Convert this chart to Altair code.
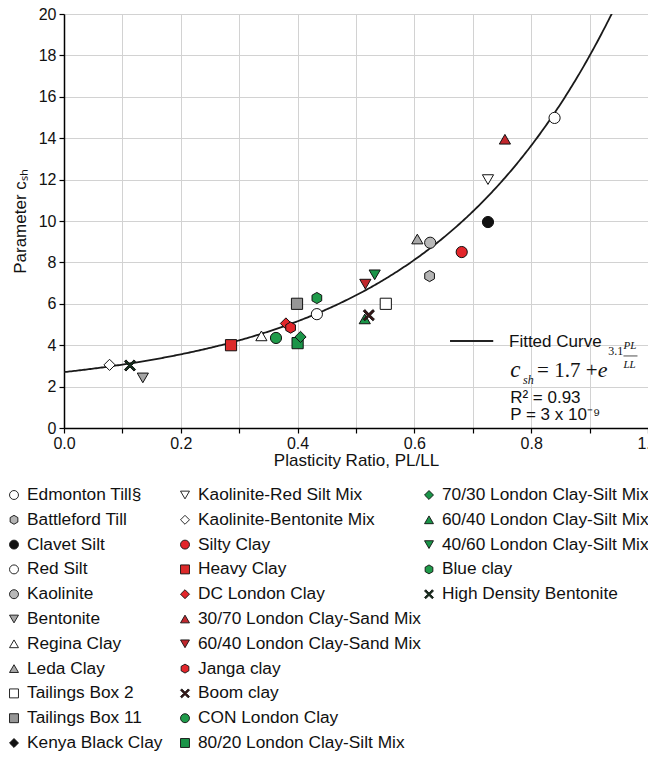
import altair as alt
import pandas as pd

# ---------------- data ----------------
series = [
    "Edmonton Till§", "Battleford Till", "Clavet Silt", "Red Silt", "Kaolinite",
    "Bentonite", "Regina Clay", "Leda Clay", "Tailings Box 2", "Tailings Box 11",
    "Kenya Black Clay",
    "Kaolinite-Red Silt Mix", "Kaolinite-Bentonite Mix", "Silty Clay", "Heavy Clay",
    "DC London Clay", "30/70 London Clay-Sand Mix", "60/40 London Clay-Sand Mix",
    "Janga clay", "Boom clay", "CON London Clay", "80/20 London Clay-Silt Mix",
    "70/30 London Clay-Silt Mix", "60/40 London Clay-Silt Mix",
    "40/60 London Clay-Silt Mix", "Blue clay", "High Density Bentonite",
]

HEX = "M0,-1L0.866,-0.5L0.866,0.5L0,1L-0.866,0.5L-0.866,-0.5Z"
XSYM = "M-1,-0.72L-0.72,-1L0,-0.28L0.72,-1L1,-0.72L0.28,0L1,0.72L0.72,1L0,0.28L-0.72,1L-1,0.72L-0.28,0Z"

shapes = [
    "circle", HEX, "circle", "circle", "circle",
    "triangle-down", "triangle-up", "triangle-up", "square", "square",
    "diamond",
    "triangle-down", "diamond", "circle", "square",
    "diamond", "triangle-up", "triangle-down",
    HEX, XSYM, "circle", "square",
    "diamond", "triangle-up",
    "triangle-down", HEX, XSYM,
]

fills = [
    "#ffffff", "#b4b4b4", "#111111", "#ffffff", "#b8b8b8",
    "#a6a6a6", "#ffffff", "#a8a8a8", "#ffffff", "#969696",
    "#111111",
    "#ffffff", "#ffffff", "#e3262b", "#dc2a2a",
    "#e3262b", "#c1272d", "#c1272d",
    "#e3262b", "#3a1616", "#1f9b4a", "#1a9448",
    "#1a9448", "#1a9448",
    "#1a9448", "#1f9b4a", "#15301d",
]

pt_series = [
    "Kaolinite-Bentonite Mix", "High Density Bentonite", "Bentonite",
    "Heavy Clay", "Regina Clay", "CON London Clay", "DC London Clay",
    "Janga clay", "Tailings Box 11", "80/20 London Clay-Silt Mix",
    "70/30 London Clay-Silt Mix", "Blue clay", "Red Silt",
    "60/40 London Clay-Sand Mix", "40/60 London Clay-Silt Mix",
    "60/40 London Clay-Silt Mix", "Boom clay", "Tailings Box 2",
    "Leda Clay", "Kaolinite", "Battleford Till", "Silty Clay",
    "Clavet Silt", "Kaolinite-Red Silt Mix", "30/70 London Clay-Sand Mix",
    "Edmonton Till§",
]
pt_x = [
    0.078, 0.113, 0.135,
    0.286, 0.338, 0.363, 0.380,
    0.388, 0.399, 0.400,
    0.405, 0.433, 0.433,
    0.516, 0.532,
    0.515, 0.522, 0.551,
    0.605, 0.627, 0.626, 0.681,
    0.726, 0.726, 0.755,
    0.840,
]
pt_y = [
    3.05, 3.02, 2.42,
    4.00, 4.45, 4.35, 5.05,
    4.85, 6.00, 4.10,
    4.40, 6.28, 5.50,
    6.95, 7.40,
    5.27, 5.45, 6.00,
    9.13, 8.95, 7.34, 8.50,
    9.95, 12.00, 13.95,
    14.98,
]

FIT_A = 1.7
FIT_B = 3.1

# ---------------- style ----------------
FONT = "'Liberation Sans', Arial, sans-serif"
SERIF = "'Liberation Serif', 'Times New Roman', serif"
W, H = 584, 414

xs = alt.Scale(domain=[0, 1], nice=False, zero=False)
ys = alt.Scale(domain=[0, 20], nice=False)
shape_scale = alt.Scale(domain=series, range=shapes)
fill_scale = alt.Scale(domain=series, range=fills)

x_ticks = [round(0.05 * i, 2) for i in range(21)]
y_ticks = list(range(0, 21, 2))

x_axis = alt.Axis(
    values=x_ticks,
    labelExpr="abs(datum.value*5 - round(datum.value*5)) < 0.001 ? format(datum.value, '.1f') : ''",
    grid=True, gridColor="#d2d2d2", gridWidth=1,
    domainColor="black", domainWidth=1.5,
    tickColor="black", tickSize=5, tickWidth=1.2,
    labelFont=FONT, labelFontSize=16, labelColor="#111", labelPadding=2,
    labelOverlap=False, labelFlush=False,
    titleFont=FONT, titleFontSize=17, titleFontWeight="normal", titleColor="#111",
    titlePadding=1,
)
y_axis = alt.Axis(
    values=y_ticks, grid=True, gridColor="#d2d2d2", gridWidth=1,
    domainColor="black", domainWidth=1.5,
    tickColor="black", tickSize=5, tickWidth=1.2,
    labelFont=FONT, labelFontSize=16, labelColor="#111", labelPadding=3,
    labelOverlap=False, labelFlush=False,
    titleFont=FONT, titleFontSize=17, titleFontWeight="normal", titleColor="#111",
    titlePadding=9,
)

curve = (
    alt.Chart(alt.sequence(0, 0.96, 0.0025, as_="x"))
    .transform_calculate(y=f"{FIT_A} + exp({FIT_B} * datum.x)")
    .mark_line(color="#1a1a1a", strokeWidth=1.8, clip=True)
    .encode(
        x=alt.X("x:Q", scale=xs, axis=x_axis, title="Plasticity Ratio, PL/LL"),
        y=alt.Y("y:Q", scale=ys, axis=y_axis, title="Parameter cₛₕ"),
    )
)

pts_df = pd.DataFrame({"series": pt_series, "x": pt_x, "y": pt_y})
points = (
    alt.Chart(pts_df)
    .mark_point(filled=True, size=125, stroke="#111", strokeWidth=1, opacity=1)
    .encode(
        x=alt.X("x:Q", scale=xs),
        y=alt.Y("y:Q", scale=ys),
        shape=alt.Shape("series:N", scale=shape_scale, legend=None),
        fill=alt.Fill("series:N", scale=fill_scale, legend=None),
    )
)

base = alt.Chart(pd.DataFrame({"a": [0]}))


def txt(s, x, y, size, font=FONT, style="normal", baseline="middle"):
    return base.mark_text(
        text=s, align="left", baseline=baseline, fontSize=size, font=font,
        fontStyle=style, color="#111",
    ).encode(x=alt.datum(x, scale=xs), y=alt.datum(y, scale=ys))


fit_line = base.mark_rule(color="#222", strokeWidth=2).encode(
    x=alt.datum(0.661), x2=alt.datum(0.735), y=alt.datum(4.2)
)
frac_line = base.mark_rule(color="#222", strokeWidth=0.8).encode(
    x=alt.datum(0.958), x2=alt.datum(0.982), y=alt.datum(3.48)
)

annots = [
    fit_line,
    txt("Fitted Curve", 0.762, 4.15, 17),
    txt("c", 0.764, 2.46, 23, SERIF, "italic", "alphabetic"),
    txt("sh", 0.786, 2.13, 12, SERIF, "italic", "alphabetic"),
    txt("= 1.7 +", 0.810, 2.46, 21, SERIF, "normal", "alphabetic"),
    txt("e", 0.914, 2.46, 22, SERIF, "italic", "alphabetic"),
    txt("3.1", 0.932, 3.53, 12, SERIF, "normal", "alphabetic"),
    txt("PL", 0.958, 3.82, 11, SERIF, "italic", "alphabetic"),
    frac_line,
    txt("LL", 0.958, 2.90, 11, SERIF, "italic", "alphabetic"),
    txt("R² = 0.93", 0.764, 1.45, 17),
    txt("P = 3 x 10⁻⁹", 0.764, 0.63, 17),
]

main = alt.layer(curve, points, *annots)

# ---------------- custom legend (column-major, 11 rows) ----------------
leg_df = pd.DataFrame({
    "series": series,
    "col": [i // 11 for i in range(len(series))],
    "row": [i % 11 for i in range(len(series))],
})
lxs = alt.Scale(domain=[0, 1, 2], range=[-50, 121, 365])
lys = alt.Scale(domain=[0, 10], range=[481, 729])
leg_base = alt.Chart(leg_df).encode(
    x=alt.X("col:Q", scale=lxs, axis=None),
    y=alt.Y("row:Q", scale=lys, axis=None),
)
leg_pts = leg_base.mark_point(
    filled=True, size=80, stroke="#111", strokeWidth=0.9, opacity=1
).encode(
    shape=alt.Shape("series:N", scale=shape_scale, legend=None),
    fill=alt.Fill("series:N", scale=fill_scale, legend=None),
)
leg_txt = leg_base.mark_text(
    align="left", baseline="middle", dx=13, fontSize=17.3, font=FONT, color="#111"
).encode(text="series:N")
legend = alt.layer(leg_pts, leg_txt)

chart = (
    alt.layer(main, legend)
    .resolve_scale(x="independent", y="independent")
    .properties(
        width=W, height=H,
        autosize=alt.AutoSizeParams(type="none"),
        padding={"left": 56, "top": 6, "right": 0, "bottom": 324},
    )
    .configure_view(stroke=None)
    .configure(background="white")
)

chart.save("out.html", embed_options={"renderer": "svg", "actions": False})
